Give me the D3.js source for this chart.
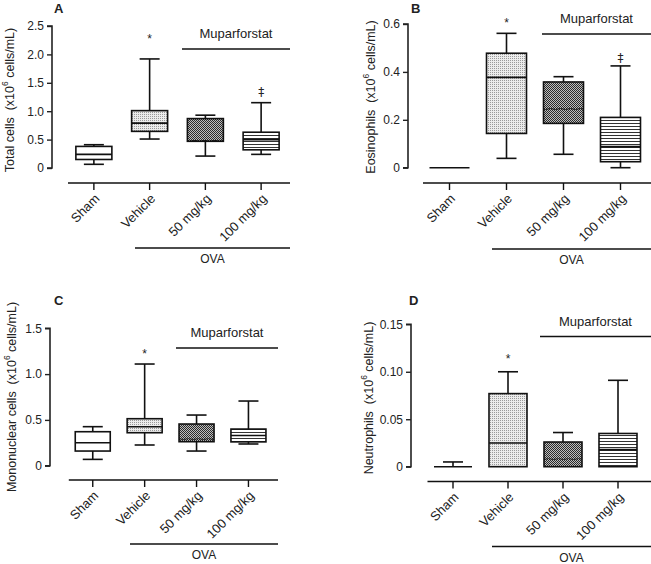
<!DOCTYPE html>
<html><head><meta charset="utf-8">
<script src="https://cdn.jsdelivr.net/npm/d3@7"></script>
<style>body{margin:0;background:#fff}svg{display:block}text{font-family:"Liberation Sans",Arial,sans-serif;fill:#222}</style>
</head><body><svg id="c" width="651" height="564"></svg>
<script>
// ---- data ----
const categories = ["Sham", "Vehicle", "50 mg/kg", "100 mg/kg"];
// [min, q1, median, q3, max] per category
const totalCells  = [[0.065,0.15,0.24,0.38,0.41],[0.51,0.645,0.79,1.01,1.92],[0.21,0.47,0.48,0.87,0.93],[0.24,0.32,0.5,0.63,1.15]];
const eosinophils = [[0,0,0,0,0],[0.039,0.143,0.377,0.478,0.561],[0.056,0.185,0.245,0.358,0.38],[0,0.025,0.088,0.21,0.425]];
const mononuclear = [[0.069,0.16,0.251,0.371,0.426],[0.226,0.36,0.426,0.513,1.11],[0.16,0.262,0.29,0.455,0.553],[0.237,0.26,0.33,0.40,0.706]];
const neutrophils = [[0,0,0,0,0.005],[0,0,0.025,0.077,0.10],[0,0,0.008,0.026,0.036],[0,0,0.018,0.035,0.091]];
const totalTicks = ["0","0.5","1.0","1.5","2.0","2.5"];
const eosTicks   = ["0","0.2","0.4","0.6"];
const monoTicks  = ["0","0.5","1.0","1.5"];
const neutTicks  = ["0","0.05","0.10","0.15"];
const totalMarks = ["", "*", "", "\u2021"];
const eosMarks   = ["", "*", "", "\u2021"];
const monoMarks  = ["", "*", "", ""];
const neutMarks  = ["", "*", "", ""];

const svg = d3.select("#c");
const defs = svg.append("defs");
// patterns
const p1 = defs.append("pattern").attr("id","pVeh").attr("width",2).attr("height",2).attr("patternUnits","userSpaceOnUse");
p1.append("rect").attr("width",2).attr("height",2).attr("fill","#ececec");
p1.append("rect").attr("width",1).attr("height",1).attr("fill","#9a9a9a");
const p2 = defs.append("pattern").attr("id","p50").attr("width",2).attr("height",2).attr("patternUnits","userSpaceOnUse");
p2.append("rect").attr("width",2).attr("height",2).attr("fill","#bdbdbd");
p2.append("rect").attr("width",1).attr("height",1).attr("fill","#2a2a2a");
p2.append("rect").attr("x",1).attr("y",1).attr("width",1).attr("height",1).attr("fill","#2a2a2a");
const p3 = defs.append("pattern").attr("id","p100").attr("width",3).attr("height",3).attr("patternUnits","userSpaceOnUse");
p3.append("rect").attr("width",3).attr("height",3).attr("fill","#fff");
p3.append("rect").attr("y",0).attr("width",3).attr("height",1).attr("fill","#333");
const fills = ["#fff","url(#pVeh)","url(#p50)","url(#p100)"];
const medDash = [null,null,"1.5,1",null];

const panels = [
  {letter:"A", data:totalCells, ticks:totalTicks, marks:totalMarks, label:"Total cells  (x10", axisX:52, y0:168, y1:26, bx0:66, bx1:289, base:183, lineEnd:290, mupX0:182, mupY:49, ovaX0:135, ovaY:248, boxW:36, letterXY:[54,13], ylab:[11,100], markOff:[0,40,0,92]},
  {letter:"B", data:eosinophils, ticks:eosTicks, marks:eosMarks, label:"Eosinophils  (x10", axisX:408, y0:167.7, y1:24, bx0:421, bx1:649, base:183, lineEnd:651, mupX0:542, mupY:34, ovaX0:492, ovaY:249, boxW:40, letterXY:[411,13], ylab:[372,97], markOff:[0,24,0,58]},
  {letter:"C", data:mononuclear, ticks:monoTicks, marks:monoMarks, label:"Mononuclear cells  (x10", axisX:50, y0:465.7, y1:328.3, bx0:66.8, bx1:274.4, base:480, lineEnd:278, mupX0:176, mupY:348, ovaX0:130, ovaY:544, boxW:35, letterXY:[54,305], ylab:[13,397], markOff:[0,355,0,0]},
  {letter:"D", data:neutrophils, ticks:neutTicks, marks:neutMarks, label:"Neutrophils  (x10", axisX:411, y0:466.7, y1:324.3, bx0:425.5, bx1:645.5, base:481.5, lineEnd:651, mupX0:540, mupY:336.5, ovaX0:492, ovaY:546.5, boxW:38, letterXY:[409,305], ylab:[370,398], markOff:[0,360,0,0]}
];

panels.forEach(p => {
  const g = svg.append("g");
  const maxV = +p.ticks[p.ticks.length-1];
  const y = d3.scaleLinear().domain([0, maxV]).range([p.y0, p.y1]);
  const x = d3.scaleBand().domain(categories).range([p.bx0, p.bx1]);
  // y axis
  const ax = g.append("g").attr("transform",`translate(${p.axisX},0)`)
    .call(d3.axisLeft(y).tickValues(p.ticks.map(Number)).tickFormat((d,i)=>p.ticks[i]).tickSize(5).tickPadding(3));
  ax.select(".domain").attr("stroke","#222").attr("stroke-width",1.6).attr("d",`M-5,${p.y1}H0V${p.y0}H-5`);
  ax.selectAll(".tick line").attr("stroke","#222").attr("stroke-width",1.4);
  ax.selectAll(".tick text").attr("font-size",12).attr("fill","#333").style("font-family","Liberation Sans, Arial");
  // y label
  const yl = g.append("text").attr("transform",`translate(${p.ylab[0]},${p.ylab[1]}) rotate(-90)`)
    .attr("text-anchor","middle").attr("dominant-baseline","middle").attr("font-size",12.5).attr("fill","#333")
    .style("white-space","pre");
  yl.append("tspan").text(p.label);
  yl.append("tspan").attr("baseline-shift","super").attr("font-size",8.5).text("6");
  yl.append("tspan").text(" cells/mL)");
  // letter
  g.append("text").attr("x",p.letterXY[0]).attr("y",p.letterXY[1]).attr("font-size",13).attr("font-weight","bold").attr("fill","#111").text(p.letter);
  // boxes
  const bw = p.boxW, cw = 20;
  p.data.forEach((d,i) => {
    const cx = x(categories[i]) + x.bandwidth()/2;
    const [mn,q1,md,q3,mx] = d;
    const s = g.append("g").attr("stroke","#111").attr("stroke-width",1.6).attr("fill","none");
    if (mx > q3) {
      s.append("line").attr("x1",cx).attr("x2",cx).attr("y1",y(q3)).attr("y2",y(mx));
      s.append("line").attr("x1",cx-cw/2).attr("x2",cx+cw/2).attr("y1",y(mx)).attr("y2",y(mx));
    }
    if (q1 > mn) {
      s.append("line").attr("x1",cx).attr("x2",cx).attr("y1",y(mn)).attr("y2",y(q1));
      s.append("line").attr("x1",cx-cw/2).attr("x2",cx+cw/2).attr("y1",y(mn)).attr("y2",y(mn));
    }
    if (q3 > q1) {
      s.append("rect").attr("x",cx-bw/2).attr("width",bw).attr("y",y(q3)).attr("height",y(q1)-y(q3)).attr("fill",fills[i]);
    }
    const ml = s.append("line").attr("x1",cx-bw/2).attr("x2",cx+bw/2).attr("y1",y(md)).attr("y2",y(md));
    if (medDash[i]) ml.attr("stroke-dasharray",medDash[i]).attr("stroke-width",1.4);
    if (p.marks[i]) {
      g.append("text").attr("x",cx).attr("y",p.markOff[i]).attr("text-anchor","middle").attr("dominant-baseline","middle")
        .attr("font-size",12).attr("opacity",0.99).style("fill","#222")
        .style("font-family", p.marks[i]==="*" ? "Liberation Sans, Arial" : "DejaVu Sans, sans-serif").text(p.marks[i]);
    }
  });
  // category baseline
  g.append("line").attr("x1",p.bx0+2).attr("x2",p.lineEnd).attr("y1",p.base).attr("y2",p.base).attr("stroke","#111").attr("stroke-width",1.5);
  categories.forEach(c => {
    const cx = x(c) + x.bandwidth()/2;
    g.append("line").attr("x1",cx).attr("x2",cx).attr("y1",p.base).attr("y2",p.base+7).attr("stroke","#111").attr("stroke-width",1.4);
    g.append("text").attr("transform",`translate(${cx+4},${p.base+14}) rotate(-45)`).attr("text-anchor","end")
      .attr("dominant-baseline","middle").attr("font-size",13).attr("fill","#333").text(c);
  });
  // Muparforstat
  g.append("line").attr("x1",p.mupX0).attr("x2",p.lineEnd).attr("y1",p.mupY).attr("y2",p.mupY).attr("stroke","#111").attr("stroke-width",1.5);
  g.append("text").attr("x",(p.mupX0+p.lineEnd)/2).attr("y",p.mupY-11).attr("text-anchor","middle").attr("font-size",13).attr("fill","#222").text("Muparforstat");
  // OVA
  g.append("line").attr("x1",p.ovaX0).attr("x2",p.lineEnd).attr("y1",p.ovaY).attr("y2",p.ovaY).attr("stroke","#111").attr("stroke-width",1.5);
  g.append("text").attr("x",(p.ovaX0+p.lineEnd)/2).attr("y",p.ovaY+15).attr("text-anchor","middle").attr("font-size",12).attr("fill","#222").text("OVA");
});
</script></body></html>
